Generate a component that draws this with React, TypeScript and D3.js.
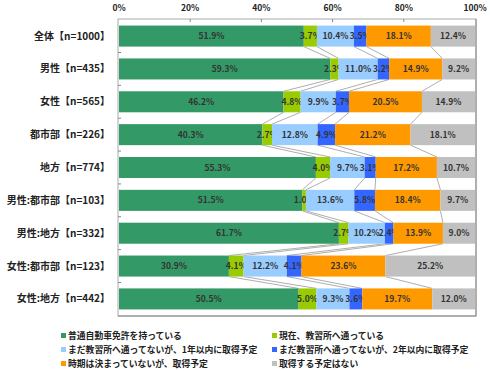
import * as d3 from 'd3';

const categories = ['全体【n=1000】', '男性【n=435】', '女性【n=565】', '都市部【n=226】', '地方【n=774】',
  '男性:都市部【n=103】', '男性:地方【n=332】', '女性:都市部【n=123】', '女性:地方【n=442】'];

const seriesNames = ['普通自動車免許を持っている', '現在、教習所へ通っている',
  'まだ教習所へ通ってないが、1年以内に取得予定', 'まだ教習所へ通ってないが、2年以内に取得予定',
  '時期は決まっていないが、取得予定', '取得する予定はない'];

const colors = ['#339966', '#99cc00', '#99ccff', '#3366ff', '#ff9900', '#c0c0c0'];

// one row per category, one value per series
const values = [
  [51.9, 3.7, 10.4, 3.5, 18.1, 12.4],
  [59.3, 2.3, 11.0, 3.2, 14.9, 9.2],
  [46.2, 4.8, 9.9, 3.7, 20.5, 14.9],
  [40.3, 2.7, 12.8, 4.9, 21.2, 18.1],
  [55.3, 4.0, 9.7, 3.1, 17.2, 10.7],
  [51.5, 1.0, 13.6, 5.8, 18.4, 9.7],
  [61.7, 2.7, 10.2, 2.4, 13.9, 9.0],
  [30.9, 4.1, 12.2, 4.1, 23.6, 25.2],
  [50.5, 5.0, 9.3, 3.6, 19.7, 12.0],
];

const xTicks = [0, 20, 40, 60, 80, 100];

const W = 490, H = 371;
const PLOT = {left: 118, right: 475, top: 19, bottom: 316};
const FONT = '"Noto Sans CJK JP", "DejaVu Sans", sans-serif';

export default function App() {
  const x = d3.scaleLinear().domain([0, 100]).range([PLOT.left + 1, PLOT.right]);
  const y = d3.scaleBand<number>()
    .domain(d3.range(categories.length))
    .range([PLOT.top, PLOT.bottom])
    .paddingInner(0.36)
    .paddingOuter(0.2);

  // cumulative boundaries, normalised so each row ends at 100%
  const stacks = values.map(row => {
    const total = d3.sum(row);
    const cum = [0];
    row.forEach(v => cum.push(cum[cum.length - 1] + v / total * 100));
    return cum;
  });

  const bw = y.bandwidth();
  const step = y.step();

  return (
    <svg width={W} height={H} style={{position: 'absolute', left: 0, top: 0, fontFamily: FONT}}>
      <rect width={W} height={H} fill="#fff" />

      {/* frame */}
      <rect x={PLOT.left} y={PLOT.top} width={PLOT.right - PLOT.left + 1} height={PLOT.bottom - PLOT.top}
        fill="none" stroke="#aaa" strokeWidth={1} />
      <line x1={PLOT.right + 1} x2={PLOT.right + 1} y1={PLOT.top} y2={PLOT.bottom} stroke="#888" />
      <line x1={PLOT.left} x2={PLOT.right + 1} y1={PLOT.bottom} y2={PLOT.bottom} stroke="#888" />

      {/* top axis */}
      {xTicks.map(t => (
        <g key={t}>
          <text x={x(t)} y={11} textAnchor="middle" fontSize={8.5} fontWeight="bold" fill="#222">{t}%</text>
          {t > 0 && t < 100 && <line x1={x(t)} x2={x(t)} y1={PLOT.top} y2={PLOT.top + 3} stroke="#888" />}
        </g>
      ))}

      {/* left ticks between rows */}
      {d3.range(1, categories.length).map(i => {
        const yy = (y(i) as number) - (step - bw) / 2;
        return <line key={i} x1={PLOT.left} x2={PLOT.left + 3} y1={yy} y2={yy} stroke="#888" />;
      })}

      {/* connector lines */}
      {stacks.slice(0, -1).map((cum, i) => (
        <g key={'c' + i}>
          {d3.range(1, 6).map(k => (
            <line key={k} x1={x(cum[k])} y1={(y(i) as number) + bw} x2={x(stacks[i + 1][k])} y2={y(i + 1) as number}
              stroke="#999" strokeWidth={0.8} />
          ))}
        </g>
      ))}

      {/* bars */}
      {values.map((row, i) => (
        <g key={'r' + i}>
          {row.map((v, k) => {
            const x0 = x(stacks[i][k]);
            const x1 = x(stacks[i][k + 1]);
            return (
              <g key={k}>
                <rect x={x0} y={y(i)} width={x1 - x0} height={bw} fill={colors[k]} />
                <text x={(x0 + x1) / 2} y={(y(i) as number) + bw / 2 + 3} textAnchor="middle"
                  fontSize={8.5} fontWeight="bold" fill="#333">{v.toFixed(1)}%</text>
              </g>
            );
          })}
          <text x={110} y={(y(i) as number) + bw / 2 + 3.5} textAnchor="end" fontSize={10}
            fontWeight="bold" fill="#222">{categories[i]}</text>
        </g>
      ))}

      {/* legend */}
      {seriesNames.map((name, k) => {
        const col = k % 2, row = Math.floor(k / 2);
        const lx = col === 0 ? 61 : 272;
        const ly = 336 + row * 14;
        return (
          <g key={'l' + k}>
            <rect x={lx} y={ly - 3} width={5} height={5} fill={colors[k]} />
            <text x={lx + 7} y={ly + 3} fontSize={8.8} fontWeight="bold" fill="#222">{name}</text>
          </g>
        );
      })}
    </svg>
  );
}
